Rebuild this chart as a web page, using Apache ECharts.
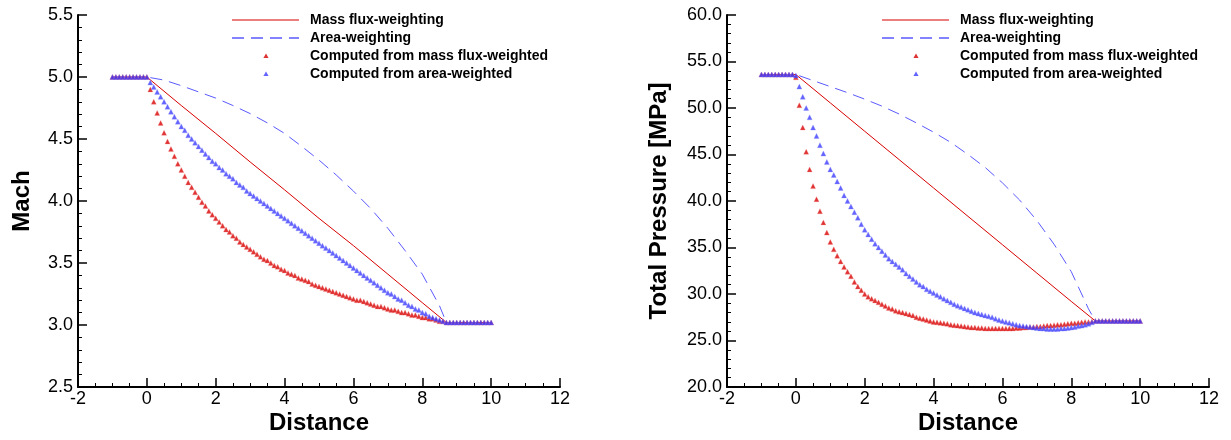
<!DOCTYPE html>
<html>
<head>
<meta charset="utf-8">
<script src="https://cdn.jsdelivr.net/npm/echarts@6/dist/echarts.min.js"></script>
<style>
html,body{margin:0;padding:0;background:#fff;}
#chart{width:1231px;height:440px;}
</style>
</head>
<body>
<div id="chart"></div>
<script>
// ---- data ----
const seriesNames = ['Mass flux-weighting', 'Area-weighting', 'Computed from mass flux-weighted', 'Computed from area-weighted'];

// sample positions of the computed (triangle) series
const distance = [
 -1.0,-0.9,-0.8,-0.7,-0.6,-0.5,-0.4,-0.3,-0.2,-0.1,
 0.0,0.1,0.2,0.3,0.4,0.5,0.6,0.7,0.8,0.9,
 1.0,1.1,1.2,1.3,1.4,1.5,1.6,1.7,1.8,1.9,
 2.0,2.1,2.2,2.3,2.4,2.5,2.6,2.7,2.8,2.9,
 3.0,3.1,3.2,3.3,3.4,3.5,3.6,3.7,3.8,3.9,
 4.0,4.1,4.2,4.3,4.4,4.5,4.6,4.7,4.8,4.9,
 5.0,5.1,5.2,5.3,5.4,5.5,5.6,5.7,5.8,5.9,
 6.0,6.1,6.2,6.3,6.4,6.5,6.6,6.7,6.8,6.9,
 7.0,7.1,7.2,7.3,7.4,7.5,7.6,7.7,7.8,7.9,
 8.0,8.1,8.2,8.3,8.4,8.5,8.6,8.7,8.8,8.9,
 9.0,9.1,9.2,9.3,9.4,9.5,9.6,9.7,9.8,9.9,
 10.0
];

const machMassTri = [
 5.00,5.00,5.00,5.00,5.00,5.00,5.00,5.00,5.00,5.00,
 5.00,
 4.90,4.80,4.71,4.63,4.55,4.48,4.42,4.36,4.30,4.25,
 4.20,4.15,4.11,4.07,4.03,3.99,3.96,3.92,3.89,3.86,
 3.83,3.80,3.77,3.75,3.72,3.70,3.67,3.65,3.63,3.61,
 3.59,3.57,3.55,3.53,3.52,3.50,3.48,3.47,3.45,3.44,
 3.42,3.41,3.40,3.38,3.37,3.36,3.35,3.33,3.32,3.31,
 3.30,3.29,3.28,3.27,3.26,3.25,3.24,3.23,3.22,3.21,
 3.20,3.20,3.19,3.18,3.17,3.16,3.15,3.15,3.14,3.13,
 3.12,3.12,3.11,3.10,3.10,3.09,3.08,3.08,3.07,3.06,
 3.06,3.05,3.05,3.04,3.03,3.03,3.02,
 3.02,3.02,3.02,3.02,3.02,3.02,3.02,3.02,3.02,3.02,3.02,3.02,3.02
];

const machAreaTri = [
 5.00,5.00,5.00,5.00,5.00,5.00,5.00,5.00,5.00,5.00,
 5.00,
 4.955,4.92,4.88,4.84,4.80,4.76,4.72,4.68,4.64,4.60,
 4.57,4.53,4.50,4.47,4.44,4.41,4.38,4.35,4.32,4.30,
 4.27,4.25,4.22,4.20,4.18,4.15,4.13,4.11,4.08,4.06,
 4.04,4.02,4.00,3.98,3.96,3.94,3.92,3.90,3.88,3.86,
 3.84,3.82,3.80,3.78,3.76,3.74,3.72,3.70,3.68,3.66,
 3.64,3.62,3.60,3.58,3.56,3.54,3.52,3.50,3.48,3.46,
 3.44,3.42,3.40,3.38,3.36,3.34,3.32,3.30,3.28,3.26,
 3.25,3.23,3.21,3.20,3.18,3.16,3.15,3.13,3.12,3.10,
 3.09,3.07,3.06,3.05,3.04,3.03,3.02,
 3.02,3.02,3.02,3.02,3.02,3.02,3.02,3.02,3.02,3.02,3.02,3.02,3.02
];

const tpMassTri = [
 53.6,53.6,53.6,53.6,53.6,53.6,53.6,53.6,53.6,53.6,
 53.3,
 50.3,47.9,45.3,43.4,41.6,40.2,38.9,37.7,36.6,35.6,
 34.8,34.1,33.5,32.9,32.4,31.9,31.3,30.8,30.4,30.0,
 29.7,29.5,29.3,29.1,28.9,28.7,28.5,28.4,28.2,28.1,
 28.0,27.9,27.8,27.7,27.5,27.4,27.3,27.2,27.1,27.0,
 26.95,26.9,26.85,26.8,26.7,26.65,26.6,26.55,26.5,26.45,
 26.4,26.4,26.35,26.35,26.3,26.3,26.3,26.3,26.3,26.3,
 26.3,26.3,26.3,26.35,26.35,26.4,26.4,26.45,26.45,26.5,
 26.5,26.55,26.6,26.6,26.65,26.7,26.7,26.75,26.8,26.85,
 26.85,26.9,26.95,27.0,27.0,27.05,27.1,
 27.1,27.1,27.1,27.1,27.1,27.1,27.1,27.1,27.1,27.1,27.1,27.1,27.1
];

const tpAreaTri = [
 53.6,53.6,53.6,53.6,53.6,53.6,53.6,53.6,53.6,53.6,
 53.5,
 52.3,51.2,50.0,49.0,47.9,47.0,46.0,45.1,44.2,43.4,
 42.8,42.1,41.4,40.6,40.0,39.4,38.8,38.2,37.5,36.9,
 36.4,35.9,35.4,35.0,34.6,34.2,33.8,33.5,33.2,32.9,
 32.6,32.2,31.9,31.6,31.3,31.0,30.8,30.5,30.3,30.1,
 29.9,29.7,29.5,29.3,29.1,28.9,28.75,28.6,28.45,28.3,
 28.15,28.0,27.9,27.8,27.7,27.6,27.5,27.35,27.2,27.1,
 27.0,26.9,26.8,26.7,26.6,26.55,26.5,26.45,26.4,26.35,
 26.3,26.3,26.25,26.25,26.25,26.25,26.3,26.3,26.35,26.4,
 26.45,26.55,26.6,26.7,26.8,26.95,27.1,
 27.1,27.1,27.1,27.1,27.1,27.1,27.1,27.1,27.1,27.1,27.1,27.1,27.1
];

// weighted-average lines
const massLineX = [-1, 0, 1, 2, 3, 4, 5, 6, 7, 8, 8.7, 10];
const machMassLine = [5.00, 5.00, 4.77, 4.545, 4.315, 4.09, 3.86, 3.64, 3.41, 3.18, 3.02, 3.02];
const tpMassLine = [53.6, 53.6, 50.55, 47.5, 44.45, 41.4, 38.35, 35.3, 32.25, 29.2, 27.1, 27.1];

const areaLineX = [-1, 0, 0.5, 1, 1.5, 2, 2.5, 3, 3.5, 4, 4.5, 5, 5.5, 6, 6.5, 7, 7.5, 8, 8.5, 8.7, 10];
const machAreaLine = [5.00, 5.00, 4.975, 4.93, 4.88, 4.83, 4.77, 4.705, 4.63, 4.545, 4.44, 4.33, 4.21, 4.08, 3.94, 3.78, 3.60, 3.41, 3.155, 3.02, 3.02];
const tpAreaLine = [53.6, 53.6, 52.95, 52.3, 51.65, 50.95, 50.2, 49.35, 48.4, 47.4, 46.3, 45.0, 43.6, 41.95, 40.1, 37.9, 35.35, 32.4, 28.4, 27.1, 27.1];

// axis ranges
const xRange = {min: -2, max: 12, interval: 2};
const machRange = {min: 2.5, max: 5.5, interval: 0.5};
const tpRange = {min: 20, max: 60, interval: 5};

// ---- styles ----
const RED = '#d80000';
const BLUE_LINE = '#5a5aff';
const BLUE_TRI = '#3c3cff';
const FONT = '"Liberation Sans", Arial, sans-serif';

function pairs(xs, ys) { return xs.map((x, i) => [x, ys[i]]); }

function svgIcon(inner) {
  return 'image://data:image/svg+xml;charset=utf-8,' + encodeURIComponent(
    '<svg xmlns="http://www.w3.org/2000/svg" width="73" height="14" viewBox="0 0 73 14">' + inner + '</svg>');
}
const legendIcons = [
  svgIcon('<line x1="0" y1="7" x2="67" y2="7" stroke="' + RED + '" stroke-width="1.2"/>'),
  svgIcon('<line x1="0" y1="7" x2="67" y2="7" stroke="' + BLUE_LINE + '" stroke-width="1.4" stroke-dasharray="12 7"/>'),
  svgIcon('<polygon points="34,4.5 36.6,9 31.4,9" fill="' + RED + '"/>'),
  svgIcon('<polygon points="34,4.5 36.6,9 31.4,9" fill="' + BLUE_TRI + '"/>')
];

function makeXAxis(gi) {
  return {
    type: 'value', gridIndex: gi, min: xRange.min, max: xRange.max, interval: xRange.interval,
    name: 'Distance', nameLocation: 'middle', nameGap: 24, nameMoveOverlap: false,
    nameTextStyle: {fontSize: 24, fontWeight: 'bold', color: '#000', fontFamily: FONT},
    axisLine: {onZero: false, lineStyle: {color: '#000', width: 2}},
    axisTick: {inside: true, length: 9, lineStyle: {color: '#000', width: 1.5}},
    minorTick: {show: true, splitNumber: 4, length: 4, lineStyle: {color: '#000', width: 1}},
    axisLabel: {fontSize: 18, color: '#000', margin: 3, fontFamily: FONT},
    splitLine: {show: false}
  };
}
function makeYAxis(gi, range, name, gap) {
  return {
    type: 'value', gridIndex: gi, min: range.min, max: range.max, interval: range.interval,
    name: name, nameLocation: 'middle', nameGap: gap, nameRotate: 90, nameMoveOverlap: false,
    nameTextStyle: {fontSize: 24, fontWeight: 'bold', color: '#000', fontFamily: FONT},
    axisLine: {onZero: false, lineStyle: {color: '#000', width: 2}},
    axisTick: {inside: true, length: 9, lineStyle: {color: '#000', width: 1.5}},
    minorTick: {show: true, splitNumber: 5, length: 4, lineStyle: {color: '#000', width: 1}},
    axisLabel: {fontSize: 18, color: '#000', margin: 5, fontFamily: FONT,
      formatter: v => v.toFixed(1)},
    splitLine: {show: false}
  };
}
function makeSeries(gi, massLine, areaLine, massTri, areaTri) {
  return [
    {name: seriesNames[0], type: 'line', xAxisIndex: gi, yAxisIndex: gi, symbol: 'none',
     lineStyle: {color: RED, width: 1}, itemStyle: {color: RED}, data: pairs(massLineX, massLine), z: 2},
    {name: seriesNames[1], type: 'line', xAxisIndex: gi, yAxisIndex: gi, symbol: 'none',
     lineStyle: {color: BLUE_LINE, width: 1, type: [12, 7]}, itemStyle: {color: BLUE_LINE}, data: pairs(areaLineX, areaLine), z: 2},
    {name: seriesNames[2], type: 'scatter', xAxisIndex: gi, yAxisIndex: gi, symbol: 'triangle', symbolSize: [5, 5],
     itemStyle: {color: RED, borderColor: 'rgba(240,120,120,0.6)', borderWidth: 0.6}, data: pairs(distance, massTri), z: 3},
    {name: seriesNames[3], type: 'scatter', xAxisIndex: gi, yAxisIndex: gi, symbol: 'triangle', symbolSize: [5, 5],
     itemStyle: {color: BLUE_TRI, borderColor: 'rgba(130,130,255,0.6)', borderWidth: 0.6}, data: pairs(distance, areaTri), z: 4}
  ];
}
function makeLegend(left) {
  return {
    left: left, top: 13, padding: 0, orient: 'vertical', itemWidth: 73, itemHeight: 14, itemGap: 4,
    selectedMode: false,
    data: seriesNames.map((n, i) => ({name: n, icon: legendIcons[i]})),
    textStyle: {fontSize: 14, fontWeight: 'bold', color: '#000', fontFamily: FONT, lineHeight: 14}
  };
}

const chart = echarts.init(document.getElementById('chart'), null, {renderer: 'canvas'});
chart.setOption({
  animation: false,
  backgroundColor: '#fff',
  textStyle: {fontFamily: FONT},
  grid: [
    {left: 78, top: 15, width: 482, height: 376},
    {left: 727, top: 15, width: 482, height: 376}
  ],
  legend: [makeLegend(232), makeLegend(882)],
  xAxis: [makeXAxis(0), makeXAxis(1)],
  yAxis: [makeYAxis(0, machRange, 'Mach', 44), makeYAxis(1, tpRange, 'Total Pressure [MPa]', 56)],
  series: makeSeries(0, machMassLine, machAreaLine, machMassTri, machAreaTri)
    .concat(makeSeries(1, tpMassLine, tpAreaLine, tpMassTri, tpAreaTri))
});
</script>
</body>
</html>
